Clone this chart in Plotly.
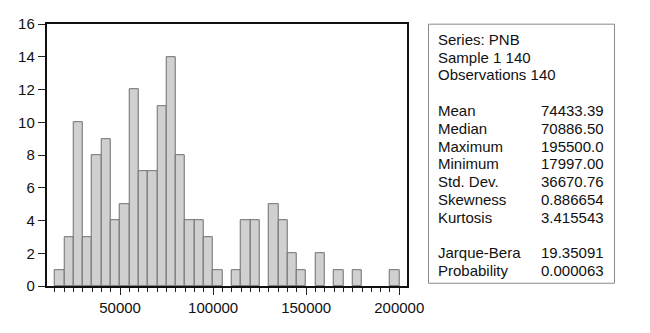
import plotly.graph_objects as go

# Histogram of PNB: 5000-wide bins starting at 15000
bin_width = 5000
bin_lower = list(range(15000, 200000, bin_width))
counts = [1, 3, 10, 3, 8, 9, 4, 5, 12, 7, 7, 11, 14, 8, 4, 4, 3, 1, 0, 1,
          4, 4, 0, 5, 4, 2, 1, 0, 2, 0, 1, 0, 1, 0, 0, 0, 1]

# Descriptive statistics panel
header_lines = ["Series: PNB", "Sample 1 140", "Observations 140"]
stat_names = ["Mean", "Median", "Maximum", "Minimum", "Std. Dev.",
              "Skewness", "Kurtosis"]
stat_values = ["74433.39", "70886.50", "195500.0", "17997.00", "36670.76",
               "0.886654", "3.415543"]
test_names = ["Jarque-Bera", "Probability"]
test_values = ["19.35091", "0.000063"]

W, H = 650, 333
FONT = "Liberation Sans, Arial, sans-serif"

def px(x):
    return x / W

def py(y):
    return 1 - y / H

xs = [lo + bin_width / 2 for lo, c in zip(bin_lower, counts) if c > 0]
ys = [c for c in counts if c > 0]

fig = go.Figure()
fig.add_trace(go.Bar(
    x=xs, y=ys, width=bin_width,
    marker=dict(color="#d0d0d0", line=dict(color="#6e6e6e", width=1)),
    hoverinfo="x+y",
))

fig.update_layout(
    width=W, height=H,
    margin=dict(l=0, r=0, t=0, b=0),
    paper_bgcolor="white", plot_bgcolor="white",
    showlegend=False, bargap=0,
    font=dict(family=FONT, size=15, color="#111111"),
    xaxis=dict(
        domain=[px(48), px(418)],
        range=[10600, 204200],
        tickmode="array", tickvals=[50000, 100000, 150000, 200000],
        ticktext=["50000", "100000", "150000", "200000"],
        ticks="outside", ticklen=7, tickwidth=1, tickcolor="#222",
        minor=dict(tickmode="linear", tick0=0, dtick=5000, ticks="outside",
                   ticklen=4, tickwidth=1, tickcolor="#222", showgrid=False),
        showline=True, linecolor="#111", linewidth=2, mirror=True,
        showgrid=False, zeroline=False,
        tickfont=dict(family=FONT, size=15, color="#111"),
    ),
    yaxis=dict(
        domain=[py(292), py(16)],
        range=[0, 16], dtick=2, tick0=0,
        ticks="outside", ticklen=7, tickwidth=1, tickcolor="#222",
        showline=True, linecolor="#111", linewidth=2, mirror=True,
        showgrid=False, zeroline=False,
        tickfont=dict(family=FONT, size=15, color="#111"),
    ),
)

# Statistics box
fig.add_shape(type="rect", xref="paper", yref="paper",
              x0=px(440), x1=px(631), y0=py(289), y1=py(16),
              line=dict(color="#8a8a8a", width=1), fillcolor="white")

def text(label, x, y, anchor):
    fig.add_annotation(xref="paper", yref="paper", x=px(x), y=py(y),
                       text=label, showarrow=False, xanchor=anchor,
                       yanchor="middle", font=dict(family=FONT, size=15, color="#111"))

for i, s in enumerate(header_lines):
    text(s, 448, 32 + i * 18.6, "left")
for i, (n, v) in enumerate(zip(stat_names, stat_values)):
    yy = 107 + i * 18.7
    text(n, 448, yy, "left")
    text(v, 622, yy, "right")
for i, (n, v) in enumerate(zip(test_names, test_values)):
    yy = 257 + i * 18.7
    text(n, 448, yy, "left")
    text(v, 622, yy, "right")

fig.write_html("out.html")
